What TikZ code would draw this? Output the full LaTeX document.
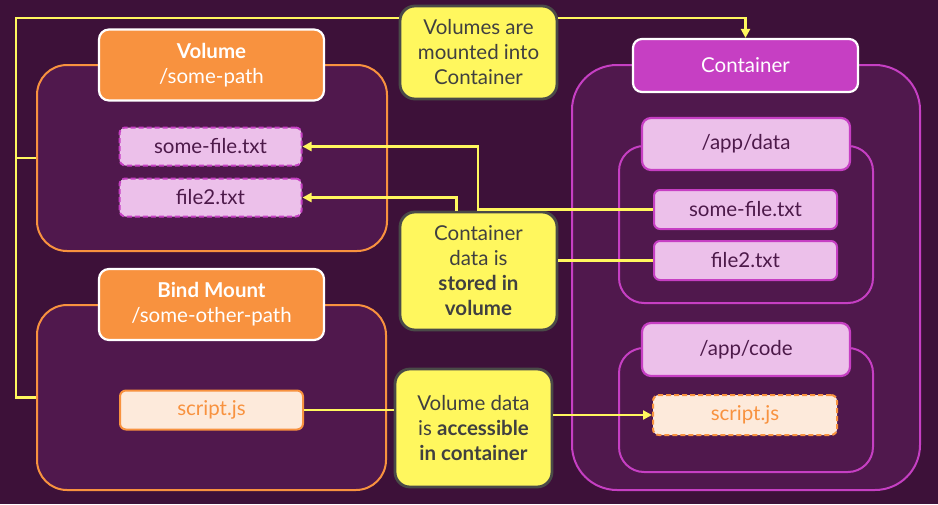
\documentclass[tikz,border=0pt]{standalone}
\usepackage{fontspec}
\setmainfont{Lato}
\usetikzlibrary{arrows.meta}
\definecolor{bg}{HTML}{3D1139}
\definecolor{panel}{HTML}{50184D}
\definecolor{orng}{HTML}{F8923F}
\definecolor{mag}{HTML}{C63FC3}
\definecolor{lilac}{HTML}{ECC0EA}
\definecolor{darktxt}{HTML}{4D1A4A}
\definecolor{peach}{HTML}{FDEADB}
\definecolor{yel}{HTML}{FFF75E}
\definecolor{notebd}{HTML}{4A4A48}
\definecolor{notetxt}{HTML}{404040}
\begin{document}
\begin{tikzpicture}[x=1pt,y=-1pt,
  txt/.style={font=\fontsize{20.5}{25}\selectfont},
  outerbox/.style={draw, fill=panel, line width=2pt, inner sep=0pt},
  orngouter/.style={outerbox, draw=orng, rounded corners=30pt},
  magouter/.style={outerbox, draw=mag, rounded corners=45pt},
  subouter/.style={outerbox, draw=mag, rounded corners=25pt},
  orhead/.style={draw=white, fill=orng, line width=2.2pt, rounded corners=10pt, inner sep=0pt, text=white, txt, align=center},
  maghead/.style={draw=white, fill=mag, line width=2.2pt, rounded corners=9pt, inner sep=0pt, text=white, txt},
  subhead/.style={draw=mag, fill=lilac, line width=2.2pt, rounded corners=9pt, inner sep=0pt, text=darktxt, txt},
  filebox/.style={draw=mag, fill=lilac, line width=2pt, rounded corners=6pt, inner sep=0pt, text=darktxt, txt},
  dfile/.style={filebox, dash pattern=on 5pt off 3pt},
  scriptbox/.style={draw=orng, fill=peach, line width=2pt, rounded corners=6pt, inner sep=0pt, text=orng, txt},
  dscript/.style={scriptbox, dash pattern=on 5pt off 3pt},
  note/.style={draw=notebd, fill=yel, line width=2.8pt, rounded corners=15pt, inner sep=0pt, text=notetxt, txt, align=center},
  yl/.style={draw=yel, line width=2.8pt},
  arr/.style={-{Triangle[length=9pt,width=9pt]}}
]
\fill[bg] (0,0) rectangle (938,504);
\useasboundingbox (0,0) rectangle (938,504);

% left: volume
\node[orngouter, minimum width=350pt, minimum height=186pt] (volouter) at (212,158) {};
\node[orhead, minimum width=225pt, minimum height=71pt] (volhead) at (211.5,65) {\textbf{Volume}\\/some-path};
\node[dfile, minimum width=182pt, minimum height=38pt] (lsome) at (210.5,146.5) {some-file.txt};
\node[dfile, minimum width=182pt, minimum height=38pt] (lfile) at (210.5,197.5) {file2.txt};

% left: bind mount
\node[orngouter, minimum width=349pt, minimum height=185pt] (bindouter) at (211.5,397.5) {};
\node[orhead, minimum width=225pt, minimum height=71pt] (bindhead) at (211.5,304.5) {\textbf{Bind Mount}\\/some-other-path};
\node[scriptbox, minimum width=183pt, minimum height=39pt] (lscript) at (211.5,410) {script.js};

% right: container
\node[magouter, minimum width=348pt, minimum height=425pt] (contouter) at (746,277.5) {};
\node[maghead, minimum width=225pt, minimum height=53pt] (conthead) at (745.5,65.5) {Container};
\node[subouter, minimum width=254pt, minimum height=157pt] (dataouter) at (746,224.5) {};
\node[subhead, minimum width=208pt, minimum height=52pt] (datahead) at (746,144) {/app/data};
\node[filebox, minimum width=183pt, minimum height=39pt] (rsome) at (745.5,209.5) {some-file.txt};
\node[filebox, minimum width=183pt, minimum height=39pt] (rfile) at (745.5,260.5) {file2.txt};
\node[subouter, minimum width=254pt, minimum height=124pt] (codeouter) at (746,410) {};
\node[subhead, minimum width=208pt, minimum height=53pt] (codehead) at (746,349.5) {/app/code};
\node[dscript, minimum width=184pt, minimum height=40pt] (rscript) at (745,415) {script.js};

% notes
\node[note, minimum width=157pt, minimum height=93pt] (n1) at (478.5,52.5) {Volumes are\\mounted into\\Container};
\node[note, minimum width=157pt, minimum height=118pt] (n2) at (478.5,271) {Container\\data is\\\textbf{stored in}\\\textbf{volume}};
\node[note, minimum width=157pt, minimum height=118pt] (n3) at (473.5,428) {Volume data\\is \textbf{accessible}\\\textbf{in container}};

% connectors
\coordinate (ltop) at (16,18);
\coordinate (j1) at (478,0);
\coordinate (j2) at (456.5,0);
\draw[yl] (volouter.west) -- (volouter.west -| ltop);
\draw[yl] (bindouter.west) -| (ltop) -- (n1.west |- ltop);
\draw[yl,arr] (n1.east |- ltop) -| (conthead.north);
\draw[yl,arr] (rsome.west) -- (rsome.west -| j1) |- (lsome.east);
\draw[yl] (rfile.west) -- (n2.east |- rfile.west);
\draw[yl,arr] (n2.north -| j2) |- (lfile.east);
\draw[yl] (lscript.east) -- (n3.west |- lscript.east);
\draw[yl,arr] (n3.east |- rscript.west) -- (rscript.west);
\end{tikzpicture}
\end{document}
